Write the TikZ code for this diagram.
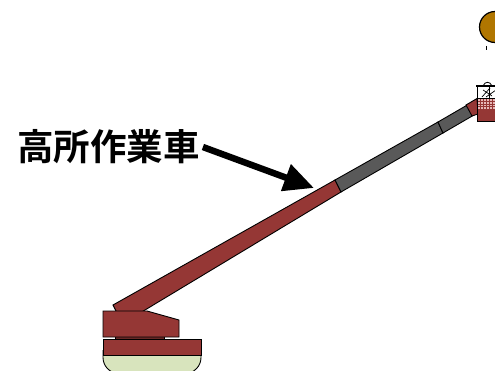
\documentclass[tikz,border=0pt]{standalone}
\usepackage{fontspec}
\newfontfamily\jpbold{Noto Sans CJK JP Bold}
\usetikzlibrary{arrows.meta}
\definecolor{boomred}{RGB}{149,55,53}
\definecolor{boomgray}{RGB}{89,89,89}
\definecolor{tirelight}{RGB}{216,228,189}
\definecolor{gridpink}{RGB}{230,185,184}
\definecolor{helmet}{RGB}{176,118,0}
\tikzset{
  part/.style={draw=black, line width=0.9pt, line join=miter},
  redpart/.style={part, fill=boomred},
  graypart/.style={part, fill=boomgray},
  callout/.style={line width=6.5pt, -{Triangle[length=30pt,width=27pt]}},
}
\begin{document}
\begin{tikzpicture}[x=1pt,y=-1pt]
\useasboundingbox (0,0) rectangle (495,371);
\clip (0,0) rectangle (495,371);

% wheel base
\draw[part, fill=tirelight, rounded corners=16pt] (103,350) -- (103,373.5) -- (201,373.5) -- (201,350);
\draw[redpart] (103,339) rectangle (201,355);
\draw[part, fill=boomred!70!black] (115,336.5) rectangle (164,339);

% boom: lower red section, middle and upper telescopic sections
\draw[redpart] (113,305) -- (335,180) -- (341,192) -- (140,313) -- (117,313) -- cycle;
\draw[graypart] (335,180) -- (438,122) -- (443,133) -- (341,192) -- cycle;
\draw[graypart] (438,122) -- (469,104) -- (474,115) -- (443,133) -- cycle;
\draw[redpart] (466,105) -- (477,98.5) -- (478,114) -- (472,116) -- cycle;

% turret
\draw[redpart] (103,311) -- (147,311) -- (179,320) -- (179,337) -- (103,337) -- cycle;

% bucket with railing
\draw[part, fill=white] (477,86) rectangle (500,98);
\draw[line width=0.7pt] (482,97) -- (490,88) (486,97) -- (496,90) (483,90) -- (492,96);
\draw[line width=0.8pt] (483,86) .. controls (485,81) and (490,81) .. (492,86);
\draw[line width=0.8pt] (477,86) -- (477,98) (489,86) -- (489,98);
\draw[line width=2pt] (476,86) -- (500,86);
\draw[redpart] (477,98) rectangle (500,121);
\fill[gridpink] (478,99) rectangle (500,109);
\foreach \gx in {480,483,...,498} \draw[boomred, line width=0.5pt] (\gx,99) -- (\gx,109);
\foreach \gy in {101.5,104,106.5} \draw[boomred, line width=0.5pt] (478,\gy) -- (500,\gy);

% worker's head
\draw[part, fill=helmet, line width=1.2pt] (495,27) circle (15.5);
\draw[line width=1.2pt] (486.5,46) -- (486.5,50);

% label and pointer
\node[font=\jpbold\fontsize{36.5}{40}\selectfont, inner sep=0pt, anchor=west] (label) at (17,147) {高所作業車};
\coordinate (tip) at (314,188);
\draw[callout] ([xshift=3pt]label.east) -- (tip);
\end{tikzpicture}
\end{document}
